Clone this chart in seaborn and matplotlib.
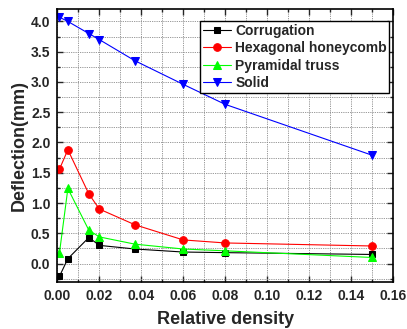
import matplotlib
matplotlib.use("Agg")
import matplotlib.pyplot as plt
import seaborn as sns
import pandas as pd
from matplotlib.ticker import MultipleLocator

x = [0.001, 0.005, 0.015, 0.02, 0.037, 0.06, 0.08, 0.15]
corrugation = [-0.21, 0.08, 0.43, 0.30, 0.24, 0.19, 0.18, 0.15]
hexagonal = [1.56, 1.88, 1.15, 0.90, 0.64, 0.39, 0.34, 0.29]
pyramidal = [0.18, 1.24, 0.55, 0.44, 0.32, 0.24, 0.21, 0.10]
solid = [4.07, 4.00, 3.80, 3.70, 3.35, 2.96, 2.63, 1.79]

series_names = ["Corrugation", "Hexagonal honeycomb", "Pyramidal truss", "Solid"]
series_values = [corrugation, hexagonal, pyramidal, solid]
colors = ["#000000", "#FF0000", "#00FF00", "#0000FF"]
markers = ["s", "o", "^", "v"]
msizes = [5, 5.5, 6, 6]

sns.set_style("ticks")
plt.rcParams['font.family'] = ['Liberation Sans', 'DejaVu Sans']
plt.rcParams['font.weight'] = 'bold'

fig = plt.figure(figsize=(4.07, 3.29), dpi=100)
ax = fig.add_axes([0.1410, 0.1438, 0.9656 - 0.1410, 0.9716 - 0.1438])

for name, vals, c, m, ms in zip(series_names, series_values, colors, markers, msizes):
    df = pd.DataFrame({"x": x, "y": vals})
    sns.lineplot(data=df, x="x", y="y", ax=ax, color=c, marker=m, markersize=ms,
                 markeredgecolor=c, markerfacecolor=c, linewidth=0.8, label=name)

ax.set_xlim(0, 0.16)
ax.set_ylim(-0.3, 4.2)
ax.xaxis.set_major_locator(MultipleLocator(0.02))
ax.xaxis.set_minor_locator(MultipleLocator(0.01))
ax.yaxis.set_major_locator(MultipleLocator(0.5))
ax.yaxis.set_minor_locator(MultipleLocator(0.25))
ax.xaxis.set_major_formatter(matplotlib.ticker.FormatStrFormatter('%.2f'))
ax.yaxis.set_major_formatter(matplotlib.ticker.FormatStrFormatter('%.1f'))

ax.grid(True, which='both', color='#8c8c8c', linestyle=(0, (1.5, 1.2)), linewidth=0.6)
ax.set_axisbelow(True)

ax.tick_params(which='both', direction='in', top=True, right=True, width=1.0)
ax.tick_params(which='major', length=4, labelsize=10, pad=5)
ax.tick_params(which='minor', length=2)
for lab in ax.get_xticklabels() + ax.get_yticklabels():
    lab.set_fontweight('bold')

for sp in ax.spines.values():
    sp.set_linewidth(1.2)
    sp.set_color('black')

ax.set_xlabel("Relative density", fontsize=13, fontweight='bold', labelpad=6)
ax.set_ylabel("Deflection(mm)", fontsize=13, fontweight='bold', labelpad=2)

leg = ax.legend(loc='upper left', bbox_to_anchor=(0.426, 0.957), borderaxespad=0,
                frameon=True, fancybox=False, edgecolor='black',
                framealpha=1, labelspacing=0.25, handlelength=2, handletextpad=0.3,
                borderpad=0.2, prop={'weight': 'bold', 'size': 10})
leg.get_frame().set_linewidth(1.0)

fig.savefig("out.png", dpi=100)
